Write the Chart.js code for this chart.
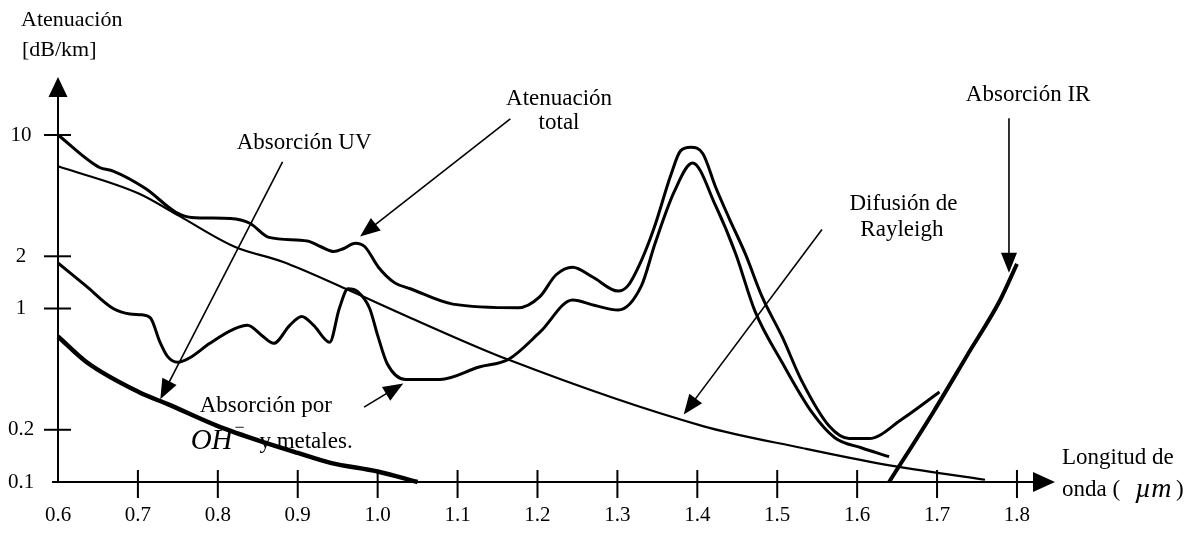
<!DOCTYPE html>
<html>
<head>
<meta charset="utf-8">
<script src="https://cdn.jsdelivr.net/npm/chart.js@4.4.1/dist/chart.umd.min.js"></script>
<style>
  html, body { margin: 0; padding: 0; background: #fff; }
  #wrap { width: 1201px; height: 534px; }
</style>
</head>
<body>
<div id="wrap"><canvas id="c" width="1201" height="534"></canvas></div>
<script>
// ---- data (wavelength in µm, attenuation in dB/km) ----
const xTickValues = [0.6, 0.7, 0.8, 0.9, 1.0, 1.1, 1.2, 1.3, 1.4, 1.5, 1.6, 1.7, 1.8];
const xTickLabels = ['0.6', '0.7', '0.8', '0.9', '1.0', '1.1', '1.2', '1.3', '1.4', '1.5', '1.6', '1.7', '1.8'];
const yTickValues = [10, 2, 1, 0.2, 0.1];
const yTickLabels = ['10', '2', '1', '0.2', '0.1'];

const totalX = [0.6, 0.652, 0.669, 0.71, 0.747, 0.767, 0.816, 0.84, 0.864, 0.912, 0.929, 0.945, 0.957, 0.972, 0.984, 1.001, 1.021, 1.041, 1.094, 1.176, 1.203, 1.223, 1.244, 1.269, 1.301, 1.313, 1.33, 1.346, 1.367, 1.379, 1.392, 1.407, 1.423, 1.44, 1.46, 1.481, 1.506, 1.531, 1.565, 1.59, 1.615, 1.656, 1.703];
const totalY = [10, 6.5, 6.2, 4.9, 3.6, 3.35, 3.3, 3.1, 2.57, 2.45, 2.27, 2.13, 2.21, 2.38, 2.27, 1.73, 1.41, 1.30, 1.06, 1.01, 1.17, 1.56, 1.73, 1.52, 1.26, 1.35, 1.89, 2.92, 5.9, 8.1, 8.5, 7.8, 5.0, 3.3, 2.07, 1.17, 0.69, 0.38, 0.21, 0.178, 0.178, 0.23, 0.33];

const ohX = [0.6, 0.635, 0.669, 0.69, 0.705, 0.716, 0.727, 0.737, 0.75, 0.765, 0.79, 0.82, 0.837, 0.855, 0.87, 0.89, 0.905, 0.92, 0.94, 0.952, 0.963, 0.975, 0.99, 1.0, 1.012, 1.035, 1.078, 1.127, 1.164, 1.203, 1.244, 1.272, 1.301, 1.33, 1.347, 1.371, 1.394, 1.423, 1.448, 1.472, 1.506, 1.544, 1.572, 1.606, 1.64];
const ohY = [1.83, 1.35, 1.0, 0.93, 0.92, 0.88, 0.65, 0.53, 0.49, 0.52, 0.63, 0.76, 0.8, 0.7, 0.63, 0.8, 0.9, 0.8, 0.64, 1.0, 1.3, 1.25, 1.0, 0.7, 0.48, 0.39, 0.39, 0.46, 0.51, 0.73, 1.12, 1.04, 0.98, 1.35, 2.36, 4.7, 6.9, 3.9, 2.07, 0.97, 0.49, 0.25, 0.18, 0.157, 0.14];

const rayX = [0.6, 0.701, 0.751, 0.821, 0.881, 0.96, 1.042, 1.164, 1.407, 1.531, 1.635, 1.76];
const rayY = [6.6, 4.6, 3.43, 2.27, 1.86, 1.30, 0.88, 0.506, 0.21, 0.157, 0.126, 0.103];

const uvX = [0.6, 0.636, 0.701, 0.738, 0.8, 0.86, 0.9, 0.941, 1.0, 1.05];
const uvY = [0.69, 0.49, 0.33, 0.28, 0.21, 0.168, 0.147, 0.129, 0.115, 0.1];

const irX = [1.64, 1.696, 1.738, 1.779, 1.80];
const irY = [0.1, 0.256, 0.54, 1.12, 1.81];

// annotation texts (anchored in data coordinates)
const noteTexts = ['Absorción UV', 'Atenuación', 'total', 'Difusión de', 'Rayleigh', 'Absorción IR', 'Absorción por'];
const noteX = [0.908, 1.227, 1.227, 1.658, 1.656, 1.814, 0.86];
const noteY = [9.0, 16.1, 11.8, 3.99, 2.85, 17, 0.275];
// annotation arrows: tail -> tip
const arrowFromX = [1.166, 0.881, 1.556, 1.79, 0.983];
const arrowFromY = [12.4, 7.0, 2.85, 12.5, 0.27];
const arrowToX = [0.978, 0.728, 1.383, 1.79, 1.032];
const arrowToY = [2.6, 0.30, 0.245, 1.61, 0.37];

const pts = (xs, ys) => xs.map((v, i) => ({ x: v, y: ys[i] }));

const SERIF = '"Liberation Serif", "DejaVu Serif", serif';

function arrowHead(ctx, x1, y1, x2, y2, len, half) {
  const a = Math.atan2(y2 - y1, x2 - x1);
  const bx = x2 - len * Math.cos(a), by = y2 - len * Math.sin(a);
  ctx.beginPath();
  ctx.moveTo(x2, y2);
  ctx.lineTo(bx + half * Math.sin(a), by - half * Math.cos(a));
  ctx.lineTo(bx - half * Math.sin(a), by + half * Math.cos(a));
  ctx.closePath();
  ctx.fill();
}

const schematic = {
  id: 'schematic',
  afterDatasetsDraw(chart) {
    const { ctx, chartArea: a } = chart;
    const xs = chart.scales.x, ys = chart.scales.y;
    ctx.save();
    ctx.strokeStyle = '#000';
    ctx.fillStyle = '#000';
    ctx.lineCap = 'butt';

    // axes
    ctx.lineWidth = 2;
    ctx.beginPath();
    ctx.moveTo(a.left, a.bottom + 1);
    ctx.lineTo(a.left, a.top + 18);
    ctx.stroke();
    arrowHead(ctx, a.left, a.bottom, a.left, a.top, 20, 9.5);
    ctx.beginPath();
    ctx.moveTo(a.left - 6, a.bottom);
    ctx.lineTo(a.right - 18, a.bottom);
    ctx.stroke();
    arrowHead(ctx, a.left, a.bottom, a.right, a.bottom, 22, 10);

    // y ticks (crossing the axis) + labels
    ctx.font = '21px ' + SERIF;
    ctx.textAlign = 'center';
    ctx.textBaseline = 'middle';
    yTickValues.forEach((v, i) => {
      const py = ys.getPixelForValue(v);
      if (v !== ys.min) {
        ctx.beginPath();
        ctx.moveTo(a.left - 14, py);
        ctx.lineTo(a.left + 13, py);
        ctx.stroke();
      }
      ctx.fillText(yTickLabels[i], a.left - 37, py);
    });
    // x ticks + labels
    xTickValues.forEach((v, i) => {
      const px = xs.getPixelForValue(v);
      if (v !== xs.min) {
        ctx.beginPath();
        ctx.moveTo(px, a.bottom - 12);
        ctx.lineTo(px, a.bottom + 16);
        ctx.stroke();
      }
      ctx.fillText(xTickLabels[i], px, a.bottom + 33);
    });

    // axis titles
    ctx.textAlign = 'left';
    ctx.font = '22px ' + SERIF;
    ctx.fillText('Atenuación', 21, 20);
    ctx.fillText('[dB/km]', 22, 50);
    ctx.font = '23px ' + SERIF;
    ctx.fillText('Longitud de', a.right + 7, a.bottom - 24);
    ctx.fillText('onda (', a.right + 7, a.bottom + 8);
    ctx.fillText(')', a.right + 121, a.bottom + 8);
    ctx.font = 'italic 28px ' + SERIF;
    ctx.fillText('µm', a.right + 80, a.bottom + 8);

    // annotation texts
    ctx.textAlign = 'center';
    ctx.font = '23px ' + SERIF;
    noteTexts.forEach((t, i) => {
      ctx.fillText(t, xs.getPixelForValue(noteX[i]), ys.getPixelForValue(noteY[i]));
    });
    // OH- y metales.
    const ohPx = xs.getPixelForValue(0.766), ohPy = ys.getPixelForValue(0.172);
    ctx.textAlign = 'left';
    ctx.font = 'italic 29px ' + SERIF;
    ctx.fillText('OH', ohPx, ohPy);
    const ohW = ctx.measureText('OH').width;
    ctx.font = '18px ' + SERIF;
    ctx.fillText('\u2212', ohPx + ohW + 2, ohPy - 13);
    ctx.font = '23px ' + SERIF;
    ctx.fillText('y metales.', xs.getPixelForValue(0.852), ohPy + 1);

    // annotation arrows
    ctx.lineWidth = 1.6;
    arrowFromX.forEach((v, i) => {
      const x1 = xs.getPixelForValue(v), y1 = ys.getPixelForValue(arrowFromY[i]);
      const x2 = xs.getPixelForValue(arrowToX[i]), y2 = ys.getPixelForValue(arrowToY[i]);
      const ang = Math.atan2(y2 - y1, x2 - x1);
      ctx.beginPath();
      ctx.moveTo(x1, y1);
      ctx.lineTo(x2 - 12 * Math.cos(ang), y2 - 12 * Math.sin(ang));
      ctx.stroke();
      arrowHead(ctx, x1, y1, x2, y2, 20, 8);
    });
    ctx.restore();
  }
};

new Chart(document.getElementById('c'), {
  type: 'line',
  data: {
    datasets: [
      { label: 'Atenuación total', data: pts(totalX, totalY), borderWidth: 3 },
      { label: 'Absorción por OH− y metales', data: pts(ohX, ohY), borderWidth: 3 },
      { label: 'Difusión de Rayleigh', data: pts(rayX, rayY), borderWidth: 2.2 },
      { label: 'Absorción UV', data: pts(uvX, uvY), borderWidth: 4.5 },
      { label: 'Absorción IR', data: pts(irX, irY), borderWidth: 4 }
    ].map(d => Object.assign(d, {
      borderColor: '#000',
      backgroundColor: '#000',
      pointRadius: 0,
      fill: false,
      cubicInterpolationMode: 'monotone',
      clip: false
    }))
  },
  options: {
    responsive: false,
    animation: false,
    layout: { padding: { left: 58, right: 146, top: 77, bottom: 52 } },
    plugins: { legend: { display: false }, tooltip: { enabled: false } },
    scales: {
      x: { type: 'linear', min: 0.6, max: 1.8476, display: false },
      y: { type: 'logarithmic', min: 0.1, max: 21.6, display: false }
    }
  },
  plugins: [schematic]
});
</script>
</body>
</html>
